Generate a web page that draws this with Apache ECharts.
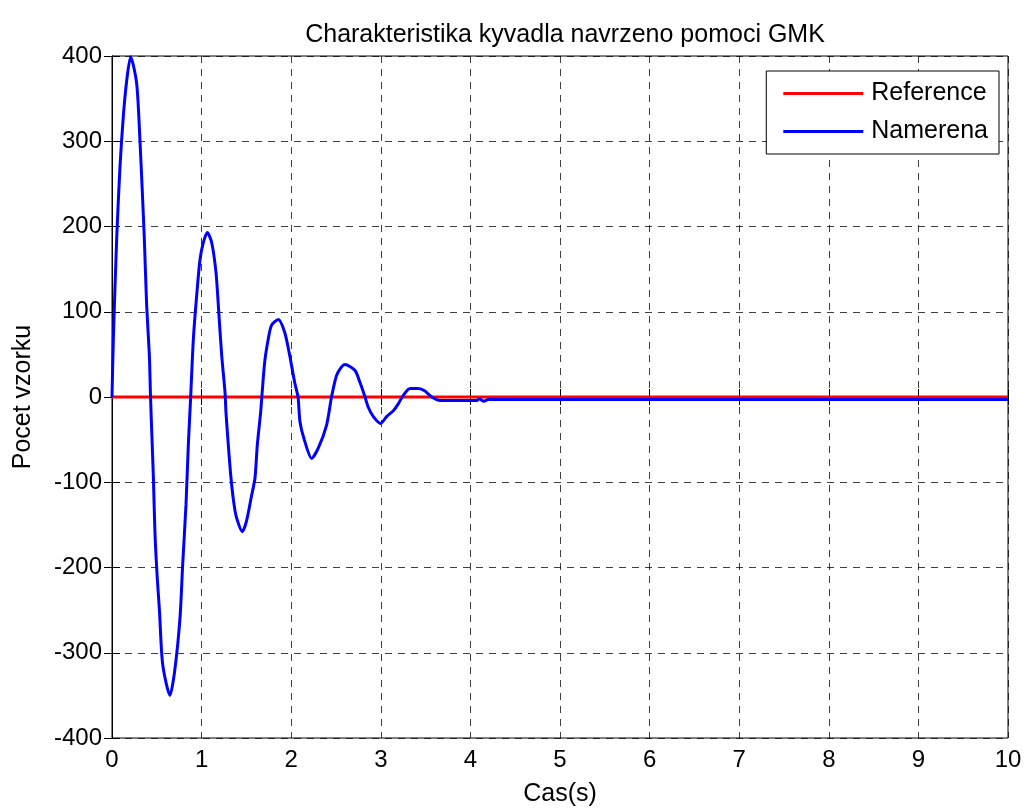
<!DOCTYPE html>
<html>
<head>
<meta charset="utf-8">
<script src="https://cdn.jsdelivr.net/npm/echarts@6/dist/echarts.min.js"></script>
<style>
html,body{margin:0;padding:0;background:#fff;}
#chart{width:1026px;height:812px;}
</style>
</head>
<body>
<div id="chart"></div>
<script>
const titleText = 'Charakteristika kyvadla navrzeno pomoci GMK';
const xName = 'Cas(s)';
const yName = 'Pocet vzorku';
const seriesNames = ['Reference', 'Namerena'];

const referenceT = [0, 10];
const referenceY = [0, 0];

const namerenaT = [0, 0.015, 0.052, 0.089, 0.126, 0.164, 0.208, 0.275, 0.312, 0.339, 0.361, 0.387, 0.417, 0.43,
  0.445, 0.462, 0.48, 0.505, 0.53, 0.565, 0.647, 0.7, 0.759, 0.789, 0.826, 0.852, 0.878,
  0.908, 0.945, 0.982, 1.019, 1.064, 1.113, 1.161, 1.187, 1.224, 1.261,
  1.272, 1.298, 1.328, 1.362, 1.391, 1.455, 1.5, 1.559, 1.596, 1.622, 1.659, 1.672,
  1.704, 1.744, 1.78, 1.856, 1.927, 1.983, 2.039, 2.076,
  2.098, 2.143, 2.228, 2.302, 2.395, 2.45,
  2.505, 2.56, 2.6, 2.712, 2.768, 2.824,
  2.86, 2.917, 2.998, 3.065, 3.14, 3.195, 3.251,
  3.326, 3.419, 3.493, 3.568, 3.66, 4.07, 4.1, 4.15, 4.2, 10];
const namerenaY = [0, 68, 185, 270, 329, 371, 399, 368, 301, 239, 185, 107, 49, 0,
  -45, -95, -161, -212, -251, -313, -350, -321, -259, -196, -126, -56, 0,
  68, 119, 161, 181, 193, 181, 146, 107, 49, 6,
  -18, -56, -95, -126, -142, -158, -146, -115, -95, -56, -18, 0,
  41, 68, 84, 91, 76, 49, 17, 0,
  -29, -49, -72, -60, -33, 0,
  25, 35, 38, 31, 17, 0,
  -12, -23, -31, -23, -16, -8, 2,
  10, 10, 7, 0, -4, -4, -2, -5, -3, -3];

const pairs = (xs, ys) => xs.map((x, i) => [x, ys[i]]);

const font = 'Liberation Sans, Arial, Helvetica, sans-serif';
const chart = echarts.init(document.getElementById('chart'), null, {renderer: 'canvas'});

const gridLine = {show: true, lineStyle: {color: '#000', type: [7, 6], width: 1, opacity: 0.75}};
const tickStyle = {show: true, inside: true, length: 8, lineStyle: {color: '#000'}};

chart.setOption({
  animation: false,
  backgroundColor: '#fff',
  title: {
    text: titleText, left: 560, textAlign: 'center', top: 18,
    textStyle: {fontFamily: font, fontSize: 25, fontWeight: 'normal', color: '#000'}
  },
  grid: {left: 112, top: 56, width: 896, height: 684, show: true, borderColor: '#000', borderWidth: 1, backgroundColor: '#fff'},
  legend: {
    data: seriesNames.map(n => ({name: n, icon: 'rect'})),
    orient: 'vertical', right: 27, top: 71,
    itemWidth: 80, itemHeight: 3, itemGap: 13,
    padding: [10, 11, 10, 17],
    borderColor: '#000', borderWidth: 1, backgroundColor: '#fff',
    textStyle: {fontFamily: font, fontSize: 25, color: '#000', padding: [0, 0, 0, 3]}
  },
  xAxis: [{
    type: 'value', min: 0, max: 10, interval: 1,
    name: xName, nameLocation: 'middle', nameGap: 44,
    nameTextStyle: {fontFamily: font, fontSize: 25, color: '#000'},
    axisLine: {show: true, lineStyle: {color: '#000'}},
    axisTick: tickStyle,
    axisLabel: {fontFamily: font, fontSize: 24, color: '#000', margin: 10},
    splitLine: gridLine
  }, {
    type: 'value', min: 0, max: 10, interval: 1, position: 'top',
    axisLine: {show: true, lineStyle: {color: '#000'}},
    axisTick: tickStyle,
    axisLabel: {show: false}, splitLine: {show: false}
  }],
  yAxis: [{
    type: 'value', min: -400, max: 400, interval: 100,
    name: yName, nameLocation: 'middle', nameGap: 76,
    nameTextStyle: {fontFamily: font, fontSize: 25, color: '#000'},
    axisLine: {show: true, lineStyle: {color: '#000'}},
    axisTick: tickStyle,
    axisLabel: {fontFamily: font, fontSize: 24, color: '#000', margin: 10},
    splitLine: gridLine
  }, {
    type: 'value', min: -400, max: 400, interval: 100, position: 'right',
    axisLine: {show: true, lineStyle: {color: '#000'}},
    axisTick: tickStyle,
    axisLabel: {show: false}, splitLine: {show: false}
  }],
  series: [{
    name: seriesNames[0], type: 'line', data: pairs(referenceT, referenceY),
    showSymbol: false, symbol: 'none', color: '#ff0000',
    lineStyle: {color: '#ff0000', width: 3}, z: 2
  }, {
    name: seriesNames[1], type: 'line', data: pairs(namerenaT, namerenaY),
    showSymbol: false, symbol: 'none', color: '#0000ff', smooth: 0.25,
    lineStyle: {color: '#0000ff', width: 3}, z: 3
  }]
});
</script>
</body>
</html>
